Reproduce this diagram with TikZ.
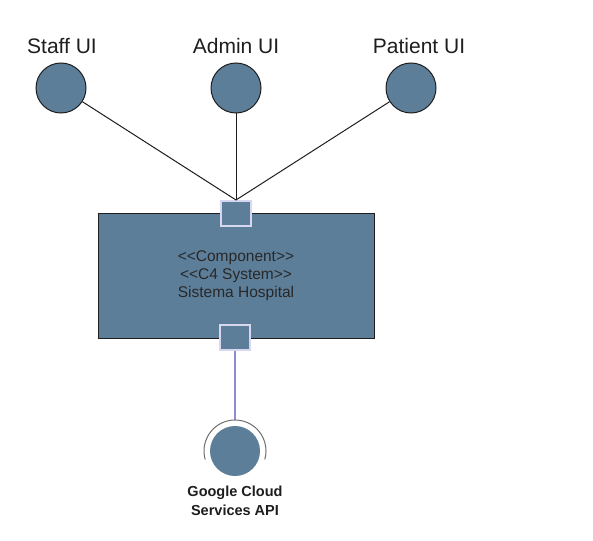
\documentclass[tikz,border=0pt]{standalone}
\usepackage{fontspec}
\setmainfont{Liberation Sans}
\definecolor{fillc}{RGB}{93,126,153}
\definecolor{edgec}{RGB}{30,30,30}
\definecolor{portc}{RGB}{215,215,240}
\definecolor{linkc}{RGB}{140,140,215}
\definecolor{arcc}{RGB}{110,110,110}
\definecolor{labc}{RGB}{30,30,30}
\definecolor{boxtxt}{RGB}{40,40,40}
\begin{document}
\begin{tikzpicture}[x=1pt,y=-1pt,
  ui/.style={circle, draw=edgec, fill=fillc, line width=1pt, minimum size=50pt, inner sep=0pt},
  portbox/.style={rectangle, draw=portc, fill=fillc, line width=1.2pt, minimum width=30pt, minimum height=25pt, inner sep=0pt},
  lbl/.style={font=\fontsize{21}{25}\selectfont, text=labc, inner sep=0pt},
  wire/.style={draw=edgec, line width=1pt}]
\useasboundingbox (0,0) rectangle (593,540);
% UI labels
\node[lbl] (lstaff) at (62,46) {Staff UI};
\node[lbl] (ladmin) at (236,46) {Admin UI};
\node[lbl] (lpat) at (419,46) {Patient UI};
% main component
\node[draw=edgec, fill=fillc, line width=1pt, minimum width=276pt, minimum height=125pt, inner sep=0pt] (sys) at (236,275.5) {};
\node[align=center, font=\fontsize{15.5}{18}\selectfont, text=boxtxt, inner sep=0pt] (systxt) at (236,276) {<{}<Component>{}>\\<{}<C4 System>{}>\\Sistema Hospital};
% ports
\node[portbox] (ptop) at (236,213.5) {};
\node[portbox] (pbot) at (235,337.5) {};
% UI circles
\node[ui] (staff) at (61,88) {};
\node[ui] (admin) at (236,88) {};
\node[ui] (pat) at (411,88) {};
\coordinate (join) at (236,200);
\draw[wire] (staff) -- (join);
\draw[wire] (admin) -- (join);
\draw[wire] (pat) -- (join);
% external API
\node[ui, draw=none, minimum size=50pt] (gcs) at (235,451) {};
\coordinate (gtop) at (235,420);
\draw[draw=linkc, line width=1.2pt] (pbot.south) -- (gtop);
\draw[draw=arcc, line width=1pt] (gcs.center) ++(164:31) arc[start angle=164, end angle=376, radius=31];
\node[align=center, font=\bfseries\fontsize{14.5}{19}\selectfont, text=labc, inner sep=0pt] (gcslbl) at (235,500.5) {Google Cloud\\Services API};
\end{tikzpicture}
\end{document}
